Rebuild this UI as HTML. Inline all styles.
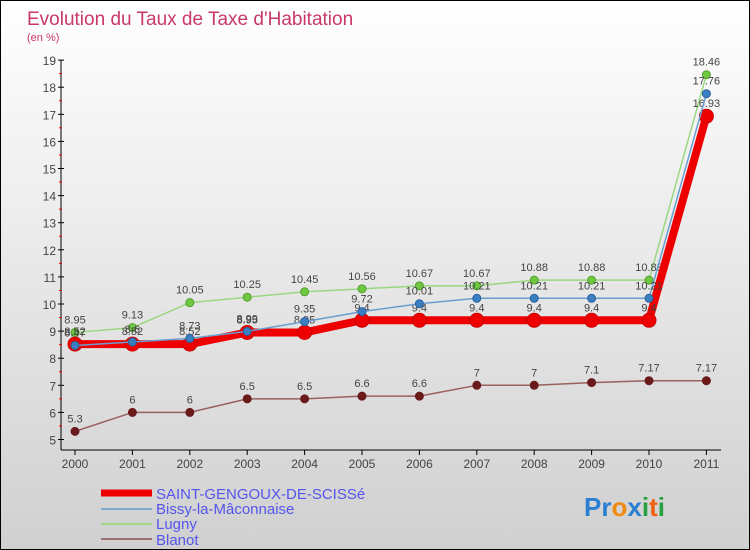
<!DOCTYPE html>
<html><head><meta charset="utf-8"><style>
body{margin:0}
#c{position:relative;width:748px;height:548px;border:1px solid #000;background:linear-gradient(#ffffff,#d0d0d0);font-family:"Liberation Sans",sans-serif;overflow:hidden}
</style></head><body>
<div id="c">
<svg id="s" width="748" height="548" xmlns="http://www.w3.org/2000/svg">
<text x="26" y="24" font-size="19" fill="#c8386a">Evolution du Taux de Taxe d'Habitation</text>
<text x="26" y="40" font-size="11" fill="#c8386a">(en %)</text>
<g id="g"></g>
<g>
<line x1="100" y1="492" x2="151" y2="492" stroke="#e00" stroke-width="7"/>
<text x="155" y="498" font-size="15" fill="#5555ee">SAINT-GENGOUX-DE-SCISSé</text>
<line x1="100" y1="508" x2="151" y2="508" stroke="#7aaad0" stroke-width="2"/>
<text x="155" y="513" font-size="15" fill="#5555ee">Bissy-la-Mâconnaise</text>
<line x1="100" y1="523" x2="151" y2="523" stroke="#a0d888" stroke-width="2"/>
<text x="155" y="528" font-size="15" fill="#5555ee">Lugny</text>
<line x1="100" y1="538" x2="151" y2="538" stroke="#9a7070" stroke-width="2"/>
<text x="155" y="544" font-size="15" fill="#5555ee">Blanot</text>
</g>
<text x="583" y="515" font-size="26" font-weight="bold"><tspan fill="#2a7fd0">Pr</tspan><tspan fill="#f08a10">o</tspan><tspan fill="#2a7fd0">x</tspan><tspan fill="#28a040">i</tspan><tspan fill="#f06010">t</tspan><tspan fill="#28a040">i</tspan></text>
</svg>
</div>
<script>
const years=[2000,2001,2002,2003,2004,2005,2006,2007,2008,2009,2010,2011];
const sg=[8.52,8.52,8.52,8.95,8.95,9.4,9.4,9.4,9.4,9.4,9.4,16.93];
const bissy=[8.47,8.6,8.73,8.99,9.35,9.72,10.01,10.21,10.21,10.21,10.21,17.76];
const lugny=[8.95,9.13,10.05,10.25,10.45,10.56,10.67,10.67,10.88,10.88,10.88,18.46];
const blanot=[5.3,6,6,6.5,6.5,6.6,6.6,7,7,7.1,7.17,7.17];
const yTicks=[5,6,7,8,9,10,11,12,13,14,15,16,17,18,19];
const NS="http://www.w3.org/2000/svg";
const g=document.getElementById('g');
const X=i=>74+i*57.4;
const Y=v=>303-(v-10)*27.1;
function mk(t,a,p){const e=document.createElementNS(NS,t);for(const k in a)e.setAttribute(k,a[k]);(p||g).appendChild(e);return e;}
const ax=mk('line',{x1:60,y1:Y(19),x2:60,y2:449,stroke:'#000'});


const xx=mk('line',{x1:60,y1:449,x2:720,y2:449,stroke:'#000'});


yTicks.forEach(v=>{
 mk('line',{x1:57,x2:63,y1:Y(v),y2:Y(v),stroke:'#000'});
 if(v<19)mk('line',{x1:58,x2:61,y1:Y(v+0.5),y2:Y(v+0.5),stroke:'#e00'});
 const t=mk('text',{x:55,y:Y(v)+5,'font-size':12,'text-anchor':'end',fill:'#444'});
 t.textContent=v;
 
 
});
years.forEach((y,i)=>{
 mk('line',{x1:X(i),x2:X(i),y1:449,y2:454,stroke:'#000'});
 const t=mk('text',{x:X(i),y:467,'font-size':12,'text-anchor':'middle',fill:'#444'});
 t.textContent=y;
 
 
});
function series(name,d,col,w,dot,r,stroke){
 const gr=mk('g',{});
 
 
 mk('polyline',{points:d.map((v,i)=>X(i)+','+Y(v)).join(' '),fill:'none',stroke:col,'stroke-width':w,'stroke-linejoin':'round'},gr);
 d.forEach((v,i)=>{
  const c=mk('circle',{cx:X(i),cy:Y(v),r:r,fill:dot,stroke:stroke,'stroke-width':1},gr);
  
  
  const t=mk('text',{x:X(i),y:Y(v)-9,'font-size':11,'text-anchor':'middle',fill:'#444'},gr);
  t.textContent=v;
 });
}
series('blanot',blanot,'#9a6060',1.5,'#6a1a1a',4,'#6a1a1a');
series('lugny',lugny,'#9ad880',1.5,'#70c840',4,'#50a030');
series('saint-gengoux',sg,'#ee0000',8,'#ee0000',7,'#cc0000');
series('bissy',bissy,'#6a9ed0',1.5,'#3a80c0',4,'#2a60a0');
</script>
</body></html>
